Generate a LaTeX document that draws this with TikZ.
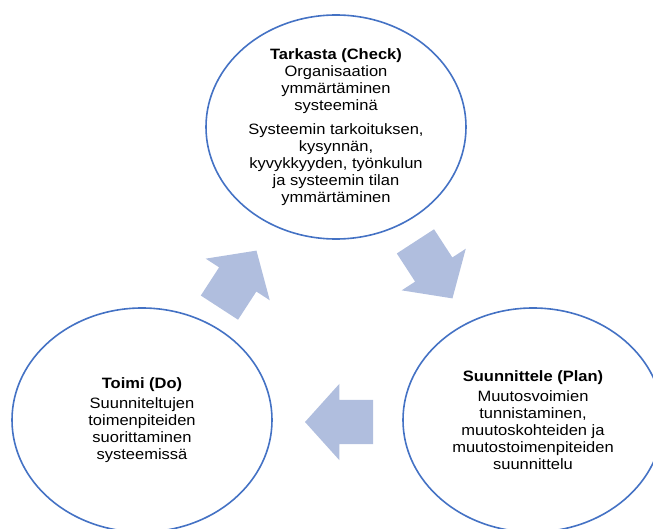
\documentclass[tikz,border=0pt]{standalone}
\usepackage{fontspec}
\setmainfont{Liberation Sans}[FakeStretch=1.1]
\usetikzlibrary{shapes.geometric, shapes.arrows}
\definecolor{ringblue}{RGB}{68,114,196}
\definecolor{turnfill}{RGB}{176,190,222}

\begin{document}
\begin{tikzpicture}[x=1pt,y=-1pt,font=\fontsize{15}{17}\selectfont,
  ring/.style={draw=ringblue,line width=1.6pt,ellipse,minimum width=260pt,minimum height=224pt,inner sep=0pt,align=center},
  turn/.style={single arrow,fill=turnfill,draw=none,minimum height=68pt,inner xsep=0pt,inner ysep=22pt,single arrow head extend=16pt,single arrow tip angle=96}]
  \useasboundingbox (0,0) rectangle (653,529);
  \node[ring](check) at (336,127){\textbf{Tarkasta (Check)}\\Organisaation\\ymmärtäminen\\systeeminä\\[7pt]Systeemin tarkoituksen,\\kysynnän,\\kyvykkyyden, työnkulun\\ja systeemin tilan\\ymmärtäminen};
  \node[ring](plan) at (533,420){\textbf{Suunnittele (Plan)}\\[3pt]Muutosvoimien\\tunnistaminen,\\muutoskohteiden ja\\muutostoimenpiteiden\\suunnittelu};
  \node[ring](do) at (142,420){\textbf{Toimi (Do)}\\[3pt]Suunniteltujen\\toimenpiteiden\\suorittaminen\\systeemissä};
  % cycle arrows between the rings
  \node[turn,rotate=-57](checkplan) at (428.5,261.5){};
  \node[turn,rotate=180](plando) at (349,422){};
  \node[turn,rotate=57](docheck) at (232.5,287.5){};
\end{tikzpicture}
\end{document}
